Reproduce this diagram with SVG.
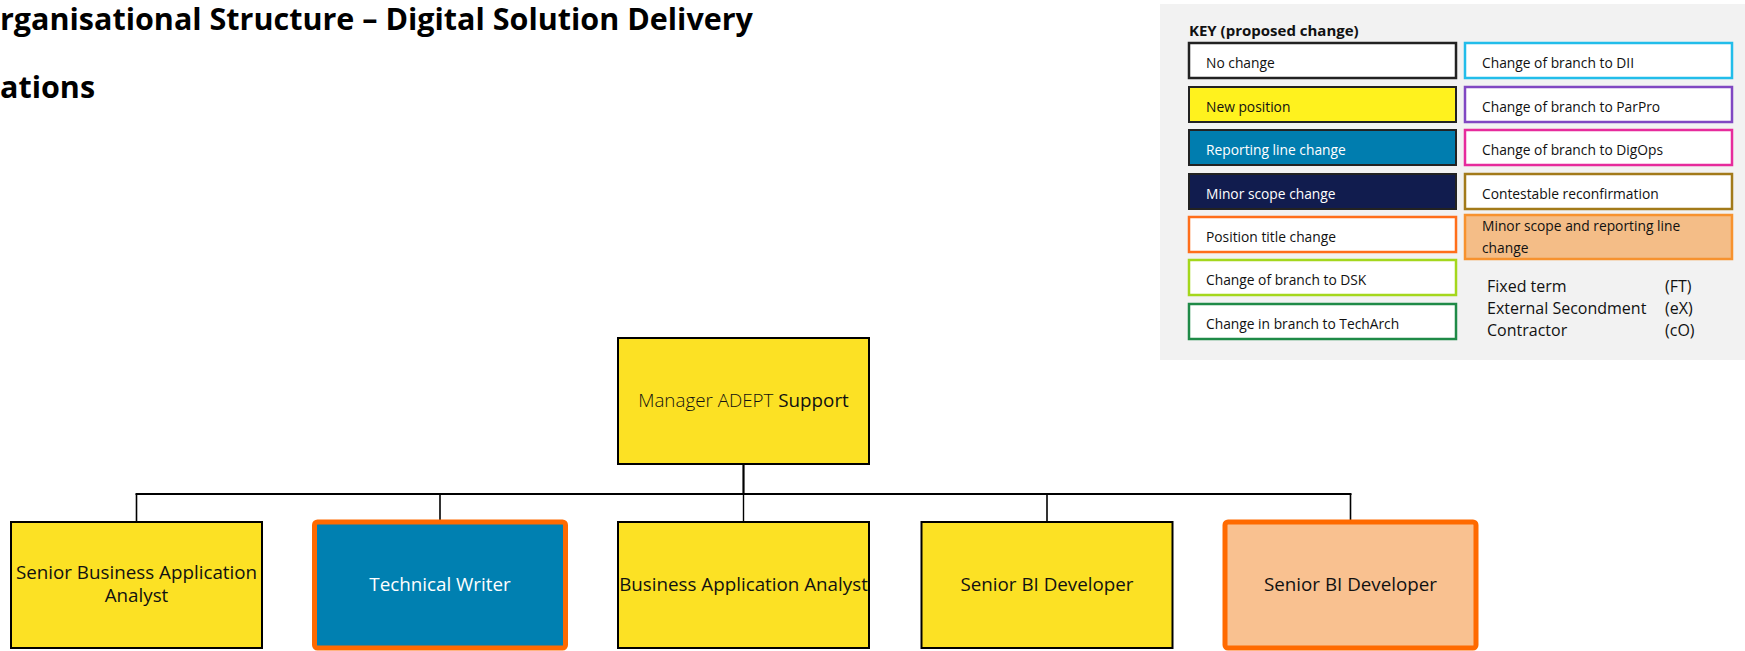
<svg xmlns="http://www.w3.org/2000/svg" width="1745" height="651" viewBox="0 0 1745 651">
  <style>
    .title { font-family: "Open Sans", "Liberation Sans", sans-serif; font-weight: bold; font-size: 30.5px; fill: #000; }
    .node { stroke: #000; stroke-width: 2; }
    .new { fill: #FCE124; }
    .rep { fill: #0080B1; }
    .mix { fill: #F9C190; }
    .hl { stroke: #FF6A00; stroke-width: 5; }
    .lbl { font-family: "Open Sans", "Liberation Sans", sans-serif; font-size: 18.8px; fill: #111; text-anchor: middle; }
    .light { font-weight: 300; }
    .link { stroke: #000; fill: none; }
    .key { font-family: "Open Sans", "Liberation Sans", sans-serif; font-size: 13.8px; fill: #111; }
    .keyhead { font-family: "Open Sans", "Liberation Sans", sans-serif; font-size: 15px; font-weight: bold; fill: #111; }
    .kbox { fill: #FFF; stroke-width: 2.5; }
    .note { font-family: "Open Sans", "Liberation Sans", sans-serif; font-size: 16px; fill: #111; }
    .key.wht, .lbl.wht { fill: #FFF; }
  </style>

  <!-- Page heading -->
  <text class="title" x="0" y="30">rganisational Structure – Digital Solution Delivery</text>
  <text class="title" x="0" y="98">ations</text>

  <!-- Legend panel -->
  <g id="legend">
    <rect x="1160" y="4" width="590" height="356" fill="#F2F2F2"/>
    <text class="keyhead" x="1189" y="36">KEY (proposed change)</text>

    <rect x="1189" y="43" width="267" height="35" class="kbox" stroke="#222" stroke-width="2"/>
    <text class="key" x="1206" y="68">No change</text>
    <rect x="1189" y="87" width="267" height="35" fill="#FFF21E" stroke="#222" stroke-width="2"/>
    <text class="key" x="1206" y="112">New position</text>
    <rect x="1189" y="130" width="267" height="35" fill="#007DAF" stroke="#222" stroke-width="2"/>
    <text class="key wht" x="1206" y="155">Reporting line change</text>
    <rect x="1189" y="174" width="267" height="35" fill="#111C4E" stroke="#222" stroke-width="2"/>
    <text class="key wht" x="1206" y="199">Minor scope change</text>
    <rect x="1189" y="217" width="267" height="35" class="kbox" stroke="#FF6E1A"/>
    <text class="key" x="1206" y="242">Position title change</text>
    <rect x="1189" y="260" width="267" height="35" class="kbox" stroke="#A4D71C"/>
    <text class="key" x="1206" y="285">Change of branch to DSK</text>
    <rect x="1189" y="304" width="267" height="35" class="kbox" stroke="#1F8A47"/>
    <text class="key" x="1206" y="329">Change in branch to TechArch</text>

    <rect x="1465" y="43" width="267" height="35" class="kbox" stroke="#22BDEA"/>
    <text class="key" x="1482" y="68">Change of branch to DII</text>
    <rect x="1465" y="87" width="267" height="35" class="kbox" stroke="#8047C2"/>
    <text class="key" x="1482" y="112">Change of branch to ParPro</text>
    <rect x="1465" y="130" width="267" height="35" class="kbox" stroke="#E62B9C"/>
    <text class="key" x="1482" y="155">Change of branch to DigOps</text>
    <rect x="1465" y="174" width="267" height="35" class="kbox" stroke="#A27A1A"/>
    <text class="key" x="1482" y="199">Contestable reconfirmation</text>
    <rect x="1465" y="215" width="267" height="44" fill="#F4BD87" stroke="#F7922E" stroke-width="2.5"/>
    <text class="key" x="1482" y="231">Minor scope and reporting line</text>
    <text class="key" x="1482" y="253">change</text>

    <text class="note" x="1487" y="292">Fixed term</text>
    <text class="note" x="1665" y="292">(FT)</text>
    <text class="note" x="1487" y="314">External Secondment</text>
    <text class="note" x="1665" y="314">(eX)</text>
    <text class="note" x="1487" y="336">Contractor</text>
    <text class="note" x="1665" y="336">(cO)</text>
  </g>

  <!-- Reporting lines -->
  <g id="connectors">
    <line class="link" x1="743.5" y1="464" x2="743.5" y2="494" stroke-width="2.2"/>
    <line class="link" x1="135.5" y1="494" x2="1351.5" y2="494" stroke-width="1.8"/>
    <line class="link" x1="136.5" y1="494" x2="136.5" y2="522" stroke-width="1.6"/>
    <line class="link" x1="440" y1="494" x2="440" y2="520" stroke-width="1.6"/>
    <line class="link" x1="743.5" y1="494" x2="743.5" y2="522" stroke-width="1.4"/>
    <line class="link" x1="1047" y1="494" x2="1047" y2="522" stroke-width="1.6"/>
    <line class="link" x1="1350.5" y1="494" x2="1350.5" y2="520" stroke-width="1.6"/>
  </g>

  <!-- Positions -->
  <g id="manager-adept-support">
    <rect class="node new" x="618" y="338" width="251" height="126"/>
    <text class="lbl" x="743.5" y="407" font-size="19"><tspan class="light">Manager ADEPT</tspan> Support</text>
  </g>

  <g id="senior-business-application-analyst">
    <rect class="node new" x="11" y="522" width="251" height="126"/>
    <text class="lbl" x="136.5" y="579">Senior Business Application</text>
    <text class="lbl" x="136.5" y="602">Analyst</text>
  </g>

  <g id="technical-writer">
    <rect class="rep hl" x="314.5" y="522" width="251" height="126" rx="3"/>
    <text class="lbl wht" x="440" y="591">Technical Writer</text>
  </g>

  <g id="business-application-analyst">
    <rect class="node new" x="618" y="522" width="251" height="126"/>
    <text class="lbl" x="743.5" y="591">Business Application Analyst</text>
  </g>

  <g id="senior-bi-developer-1">
    <rect class="node new" x="921.5" y="522" width="251" height="126"/>
    <text class="lbl" x="1047" y="591">Senior BI Developer</text>
  </g>

  <g id="senior-bi-developer-2">
    <rect class="mix hl" x="1225" y="522" width="251" height="126" rx="3"/>
    <text class="lbl" x="1350.5" y="591">Senior BI Developer</text>
  </g>
</svg>
